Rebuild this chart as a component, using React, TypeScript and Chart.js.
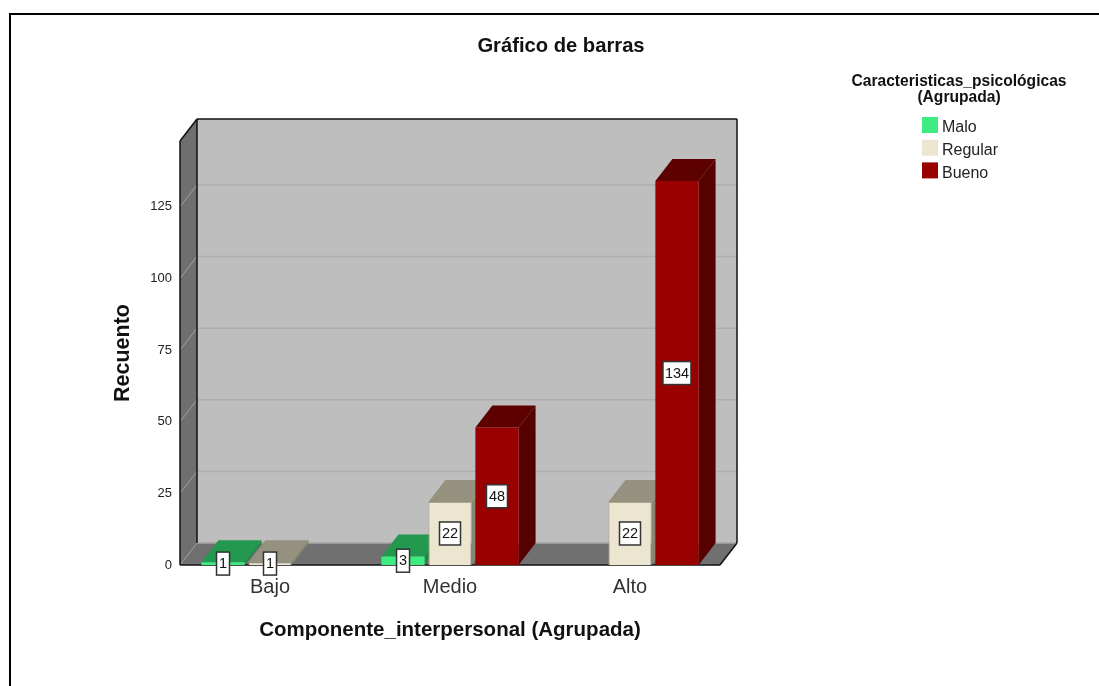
import React, { useEffect, useRef } from "react";
import { Chart, registerables } from "chart.js";

Chart.register(...registerables);

const categories = ["Bajo", "Medio", "Alto"];
const malo = [1, 3, null];
const regular = [1, 22, 22];
const bueno = [null, 48, 134];
const yTicks = [0, 25, 50, 75, 100, 125];
const chartTitle = "Gráfico de barras";
const xTitle = "Componente_interpersonal (Agrupada)";
const yTitle = "Recuento";
const legendTitle = ["Caracteristicas_psicológicas", "(Agrupada)"];

const FONT = '"Liberation Sans", Arial, sans-serif';
const DX = 17;
const DY = -22;
const faces: Record<string, { top: string; side: string }> = {
  Malo: { top: "#23984F", side: "#1E8A47" },
  Regular: { top: "#95917F", side: "#8A8674" },
  Bueno: { top: "#5C0000", side: "#560000" },
};

const poly = (ctx: CanvasRenderingContext2D, pts: number[][], fill?: string, stroke?: string, lw = 1) => {
  ctx.beginPath();
  pts.forEach(([x, y], i) => (i ? ctx.lineTo(x, y) : ctx.moveTo(x, y)));
  ctx.closePath();
  if (fill) {
    ctx.fillStyle = fill;
    ctx.fill();
  }
  if (stroke) {
    ctx.strokeStyle = stroke;
    ctx.lineWidth = lw;
    ctx.stroke();
  }
};

const line = (ctx: CanvasRenderingContext2D, x1: number, y1: number, x2: number, y2: number, c: string, lw = 1) => {
  ctx.beginPath();
  ctx.moveTo(x1, y1);
  ctx.lineTo(x2, y2);
  ctx.strokeStyle = c;
  ctx.lineWidth = lw;
  ctx.stroke();
};

const scene = {
  id: "scene3d",
  beforeDraw(chart: any) {
    const { ctx, chartArea: a, scales } = chart;
    const { left: l, right: r, top: t, bottom: b } = a;
    ctx.save();
    // outer frame
    ctx.fillStyle = "#000";
    ctx.fillRect(9, 13, 1090, 2);
    ctx.fillRect(9, 13, 2, 673);
    // back wall
    poly(ctx, [[l + DX, t + DY], [r + DX, t + DY], [r + DX, b + DY], [l + DX, b + DY]], "#BEBEBE");
    // left wall
    poly(ctx, [[l, t], [l + DX, t + DY], [l + DX, b + DY], [l, b]], "#6F6F6F");
    // floor
    poly(ctx, [[l, b], [r, b], [r + DX, b + DY], [l + DX, b + DY]], "#707070");
    // gridlines
    yTicks.forEach((v) => {
      const y = scales.y.getPixelForValue(v);
      if (v > 0) {
        line(ctx, l, y, l + DX, y + DY, "#A0A0A0");
        line(ctx, l + DX, y + DY, r + DX, y + DY, "#AEAEAE", 1.5);
      }
    });
    line(ctx, l + DX, b + DY, r + DX, b + DY, "#A6A6A6", 1.5);
    line(ctx, l, b, l + DX, b + DY, "#999999");
    // edges
    ctx.lineJoin = "round";
    line(ctx, l, t, l, b, "#111", 1.5);
    line(ctx, l, t, l + DX, t + DY, "#111", 1.5);
    line(ctx, l + DX, t + DY, r + DX, t + DY, "#111", 1.5);
    line(ctx, l + DX, t + DY, l + DX, b + DY, "#111", 1.5);
    line(ctx, r + DX, t + DY, r + DX, b + DY, "#111", 1.5);
    line(ctx, r + DX, b + DY, r, b, "#111", 1.5);
    line(ctx, l, b, r, b, "#111", 1.5);
    ctx.restore();

    // title
    ctx.save();
    ctx.fillStyle = "#111";
    ctx.textAlign = "center";
    ctx.textBaseline = "middle";
    ctx.font = `bold 20.2px ${FONT}`;
    ctx.fillText(chartTitle, 561, 46);
    // legend
    ctx.font = `bold 15.6px ${FONT}`;
    legendTitle.forEach((s, i) => ctx.fillText(s, 959, 82 + i * 16));
    ctx.textAlign = "left";
    ctx.font = `16px ${FONT}`;
    chart.data.datasets.forEach((d: any, i: number) => {
      const y = 117 + i * 22.7;
      ctx.fillStyle = d.backgroundColor;
      ctx.fillRect(922, y, 16, 16);
      ctx.fillStyle = "#222";
      ctx.fillText(d.label, 942, y + 11);
    });
    ctx.restore();
  },
  beforeDatasetsDraw(chart: any) {
    const { ctx } = chart;
    ctx.save();
    // Side and top faces, left to right; the front faces are the library's bars, drawn afterwards.
    chart.data.datasets.forEach((d: any, di: number) => {
      const meta = chart.getDatasetMeta(di);
      const f = faces[d.label];
      meta.data.forEach((el: any, i: number) => {
        if (d.data[i] == null) return;
        const { x, y, width, base } = el.getProps(["x", "y", "width", "base"], true);
        const L = x - width / 2;
        const R = x + width / 2;
        poly(ctx, [[R, y], [R + DX, y + DY], [R + DX, base + DY], [R, base]], f.side);
        poly(ctx, [[L, y], [R, y], [R + DX, y + DY], [L + DX, y + DY]], f.top);
      });
    });
    ctx.restore();
  },
  afterDatasetsDraw(chart: any) {
    const { ctx } = chart;
    ctx.save();
    ctx.font = `14.5px ${FONT}`;
    ctx.textAlign = "center";
    ctx.textBaseline = "middle";
    chart.data.datasets.forEach((d: any, di: number) => {
      const meta = chart.getDatasetMeta(di);
      meta.data.forEach((el: any, i: number) => {
        const v = d.data[i];
        if (v == null) return;
        const { x, y, base } = el.getProps(["x", "y", "base"], true);
        const s = String(v);
        const w = s.length === 1 ? 13 : s.length === 2 ? 21 : 28;
        const cy = (y + base) / 2;
        ctx.fillStyle = "#fff";
        ctx.strokeStyle = "#333";
        ctx.lineWidth = 1.5;
        ctx.fillRect(x - w / 2, cy - 11.5, w, 23);
        ctx.strokeRect(x - w / 2, cy - 11.5, w, 23);
        ctx.fillStyle = "#111";
        ctx.fillText(s, x, cy + 0.5);
      });
    });
    ctx.restore();
  },
};

export default function App() {
  const ref = useRef<HTMLCanvasElement>(null);
  useEffect(() => {
    if (!ref.current) return;
    const chart = new Chart(ref.current, {
      type: "bar",
      data: {
        labels: categories,
        datasets: [
          { label: "Malo", data: malo, backgroundColor: "#3DEB80", borderColor: "#35D070", borderWidth: 0 },
          { label: "Regular", data: regular, backgroundColor: "#ECE6D0", borderColor: "#A9A58F", borderWidth: 1 },
          { label: "Bueno", data: bueno, backgroundColor: "#990000", borderColor: "#7A0000", borderWidth: 0 },
        ],
      } as any,
      options: {
        responsive: false,
        animation: false,
        devicePixelRatio: 1,
        layout: { padding: { left: 110, right: 379, top: 141, bottom: 41 } },
        datasets: { bar: { categoryPercentage: 0.783, barPercentage: 0.92 } },
        plugins: {
          legend: { display: false },
          title: { display: false },
          tooltip: { enabled: false },
        },
        scales: {
          x: {
            grid: { display: false },
            border: { display: false },
            ticks: { color: "#333", font: { size: 20, family: FONT }, padding: 2, maxRotation: 0 },
            title: { display: true, text: xTitle, color: "#111", font: { size: 20.5, weight: "bold", family: FONT }, padding: { top: 0, bottom: 2 } },
            afterFit: (s: any) => { s.height = 80; },
          },
          y: {
            min: 0,
            max: 148,
            afterBuildTicks: (s: any) => { s.ticks = yTicks.map((value) => ({ value })); },
            grid: { display: false },
            border: { display: false },
            ticks: { color: "#222", font: { size: 13, family: FONT }, padding: 0 },
            title: { display: true, text: yTitle, color: "#111", font: { size: 21.5, weight: "bold", family: FONT }, padding: 0 },
            afterFit: (s: any) => { s.width = 70; },
          },
        },
      } as any,
      plugins: [scene as any],
    });
    return () => chart.destroy();
  }, []);
  return (
    <div style={{ position: "absolute", left: 0, top: 0, width: 1099, height: 686, background: "#fff" }}>
      <canvas ref={ref} width={1099} height={686} style={{ display: "block" }} />
    </div>
  );
}
